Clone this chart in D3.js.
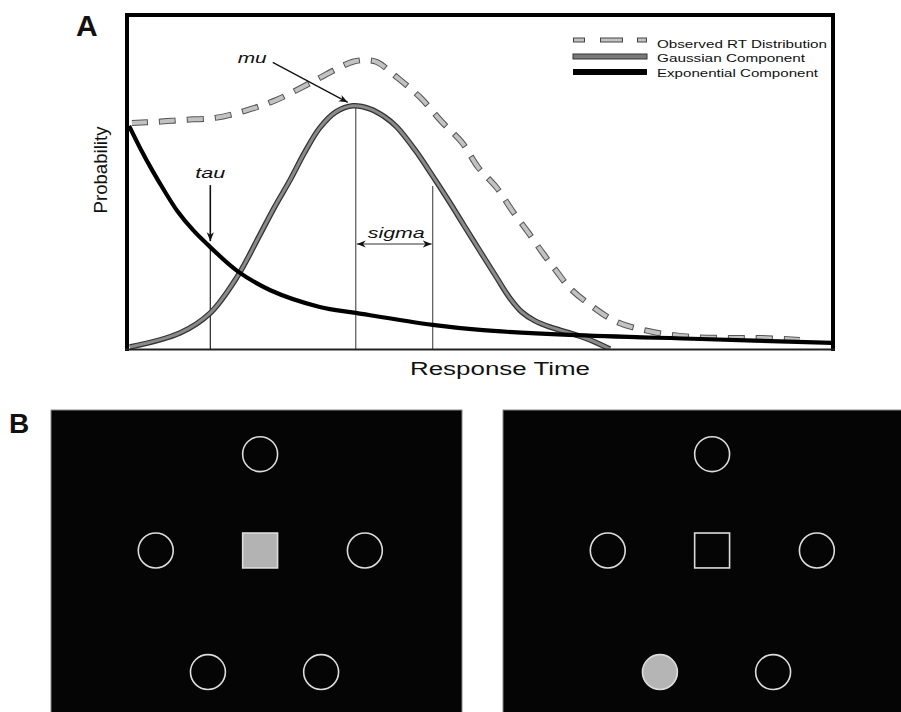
<!DOCTYPE html>
<html>
<head>
<meta charset="utf-8">
<script src="https://cdn.jsdelivr.net/npm/d3@7/dist/d3.min.js"></script>
<style>
  html, body { margin: 0; padding: 0; background: #fff; }
  svg { display: block; }
  text { font-family: "Liberation Sans", Arial, Helvetica, sans-serif; }
</style>
</head>
<body>
<div id="chart"></div>
<script>
// ---------- Panel A data (response time in arbitrary units 0-100, probability 0-100) ----------
const timeObserved = [0.7, 4.2, 7.9, 12.5, 16.7, 21.2, 25.9, 30.2, 32.0, 33.7, 35.4, 38.2, 41.5, 44.6, 47.5, 49.7, 52.4, 54.7, 56.8, 58.9, 60.9, 62.7, 65.6, 69.4, 74.5, 80.2, 85.4, 89.7, 95.3];
const probObserved = [67.7, 68.0, 68.6, 69.2, 71.3, 74.6, 79.6, 84.4, 86.0, 86.5, 85.9, 81.4, 75.4, 68.0, 61.7, 54.5, 48.2, 41.0, 35.0, 28.7, 23.1, 18.3, 13.2, 8.1, 5.1, 3.6, 3.3, 3.3, 2.7];

const timeGaussian = [0.4, 7.5, 11.8, 15.6, 18.8, 20.9, 23.1, 25.2, 27.3, 29.6, 32.0, 34.4, 36.5, 38.2, 40.8, 43.2, 45.5, 47.7, 50.0, 52.3, 54.2, 55.9, 57.8, 59.9, 62.7, 65.6, 68.4];
const probGaussian = [0.6, 4.8, 10.8, 21.6, 34.1, 42.5, 50.6, 59.0, 66.2, 71.0, 72.8, 71.9, 69.5, 66.5, 59.6, 52.1, 44.6, 37.1, 29.3, 21.6, 15.3, 11.1, 8.4, 6.6, 4.8, 2.7, 0.0];

const timeExponential = [0.3, 2.0, 3.6, 5.4, 7.1, 9.4, 11.8, 15.6, 20.3, 27.3, 32.4, 43.3, 50.0, 62.7, 81.2, 100];
const probExponential = [66.8, 59.6, 53.4, 47.0, 41.4, 35.5, 30.5, 23.4, 17.6, 12.6, 10.8, 7.2, 5.7, 4.2, 3.0, 1.8];

// ex-Gaussian parameters marked on the chart
const paramNames = ["tau", "mu", "sigma"];
const paramTimes = [11.8, 32.4, 43.3];

const legendLabels = ["Observed RT Distribution", "Gaussian Component", "Exponential Component"];

// ---------- Panel B data (stimulus display, screen pixels of a 1024x768 display) ----------
const placeholderNames = ["top", "left", "right", "lowerLeft", "lowerRight"];
const placeholderX = [521, 261, 782, 391, 673];
const placeholderY = [110, 350, 350, 653, 653];
const fixationX = 521, fixationY = 350;
const displays = ["cue", "target"];

// ---------- Drawing ----------
const W = 901, H = 712;
const svg = d3.select("#chart").append("svg").attr("width", W).attr("height", H);
svg.append("rect").attr("width", W).attr("height", H).attr("fill", "#fff");

const defs = svg.append("defs");
function marker(id, orient) {
  defs.append("marker").attr("id", id)
    .attr("viewBox", "0 0 10 10").attr("refX", 10).attr("refY", 5)
    .attr("markerWidth", 9).attr("markerHeight", 9).attr("markerUnits", "userSpaceOnUse")
    .attr("orient", orient)
    .append("path").attr("d", "M0,1 L10,5 L0,9 L3,5 Z").attr("fill", "#111");
}
marker("arr", "auto");
marker("arrStart", "auto-start-reverse");

const x = d3.scaleLinear().domain([0, 100]).range([127, 833]);
const y = d3.scaleLinear().domain([0, 100]).range([349, 15]);

defs.append("clipPath").attr("id", "plotClip")
  .append("rect").attr("x", 129).attr("y", 17).attr("width", 703).attr("height", 332);

const gA = svg.append("g");

const lookup = (ts, ps) => t => {
  for (let i = 1; i < ts.length; i++) {
    if (t <= ts[i]) {
      const f = (t - ts[i-1]) / (ts[i] - ts[i-1]);
      return ps[i-1] + f * (ps[i] - ps[i-1]);
    }
  }
  return 0;
};
const gaussAt = lookup(timeGaussian, probGaussian);
const expAt = lookup(timeExponential, probExponential);

const lineTops = [expAt(paramTimes[0]), gaussAt(paramTimes[1]), gaussAt(paramTimes[2]) - 3];
gA.selectAll("line.ref").data(paramTimes).join("line")
  .attr("class", "ref")
  .attr("x1", d => x(d)).attr("x2", d => x(d))
  .attr("y1", (d, i) => y(lineTops[i])).attr("y2", y(0))
  .attr("stroke", (d, i) => i === 0 ? "#222" : "#555").attr("stroke-width", 1.2);

const curves = gA.append("g").attr("clip-path", "url(#plotClip)");
const line = d3.line().x(d => x(d[0])).y(d => y(d[1])).curve(d3.curveCatmullRom.alpha(0.5));

const obs = d3.zip(timeObserved, probObserved);
const gau = d3.zip(timeGaussian, probGaussian);
const ex = d3.zip(timeExponential, probExponential);

// Gaussian component: grey band with dark edges
curves.append("path").attr("d", line(gau)).attr("fill", "none").attr("stroke", "#333").attr("stroke-width", 5.5);
curves.append("path").attr("d", line(gau)).attr("fill", "none").attr("stroke", "#8a8a8a").attr("stroke-width", 3);

// Observed RT distribution: outlined light grey dashes
curves.append("path").attr("d", line(obs)).attr("fill", "none").attr("stroke", "#555")
  .attr("stroke-width", 6).attr("stroke-dasharray", "17,11").attr("stroke-dashoffset", 1);
curves.append("path").attr("d", line(obs)).attr("fill", "none").attr("stroke", "#c2c2c2")
  .attr("stroke-width", 4).attr("stroke-dasharray", "15,13");

// Exponential component
curves.append("path").attr("d", line(ex)).attr("fill", "none").attr("stroke", "#000").attr("stroke-width", 4.2);

// Frame
gA.append("line").attr("x1", 125).attr("x2", 835).attr("y1", 15).attr("y2", 15).attr("stroke", "#000").attr("stroke-width", 4);
gA.append("line").attr("x1", 127).attr("x2", 127).attr("y1", 13).attr("y2", 351).attr("stroke", "#000").attr("stroke-width", 4);
gA.append("line").attr("x1", 833).attr("x2", 833).attr("y1", 13).attr("y2", 351).attr("stroke", "#000").attr("stroke-width", 4);
gA.append("line").attr("x1", 125).attr("x2", 835).attr("y1", 349.5).attr("y2", 349.5).attr("stroke", "#222").attr("stroke-width", 2);

// Annotations
const italic = (sel) => sel.attr("font-style", "italic").attr("font-size", 14).attr("fill", "#111");
// mu
const muX = x(paramTimes[1]), muY = y(gaussAt(paramTimes[1]));
gA.append("text").text("mu").call(italic).attr("x", muX - 118).attr("y", muY - 43)
  .attr("textLength", 29).attr("lengthAdjust", "spacingAndGlyphs");
gA.append("line").attr("x1", muX - 83).attr("y1", muY - 44).attr("x2", muX - 8).attr("y2", muY - 4)
  .attr("stroke", "#111").attr("stroke-width", 1.3).attr("marker-end", "url(#arr)");
// tau
const tauX = x(paramTimes[0]), tauY = y(expAt(paramTimes[0]));
gA.append("text").text("tau").call(italic).attr("x", tauX).attr("y", tauY - 69).attr("text-anchor", "middle")
  .attr("textLength", 30).attr("lengthAdjust", "spacingAndGlyphs");
gA.append("line").attr("x1", tauX).attr("y1", tauY - 62).attr("x2", tauX).attr("y2", tauY - 6)
  .attr("stroke", "#111").attr("stroke-width", 1.6).attr("marker-end", "url(#arr)");
// sigma
const sgA = x(paramTimes[1]), sgB = x(paramTimes[2]);
gA.append("text").text("sigma").call(italic).attr("x", (sgA + sgB) / 2 + 2).attr("y", 238).attr("text-anchor", "middle")
  .attr("textLength", 57).attr("lengthAdjust", "spacingAndGlyphs");
gA.append("line").attr("x1", sgA + 1).attr("x2", sgB - 1).attr("y1", 244).attr("y2", 244)
  .attr("stroke", "#333").attr("stroke-width", 1.2)
  .attr("marker-start", "url(#arrStart)").attr("marker-end", "url(#arr)");

// Axis titles
gA.append("text").text("Response Time").attr("x", 500).attr("y", 375).attr("text-anchor", "middle")
  .attr("font-size", 18).attr("fill", "#111").attr("textLength", 180).attr("lengthAdjust", "spacingAndGlyphs");
gA.append("text").text("Probability").attr("transform", "translate(107,170) rotate(-90)").attr("text-anchor", "middle")
  .attr("font-size", 19).attr("fill", "#111").attr("textLength", 87).attr("lengthAdjust", "spacingAndGlyphs");

// Legend
const legendY = [40, 56.5, 72];
const textY = [47.5, 62, 77];
const textLen = [170, 148, 161];
const lg = gA.append("g");
lg.append("line").attr("x1", 573).attr("x2", 647).attr("y1", legendY[0]).attr("y2", legendY[0])
  .attr("stroke", "#444").attr("stroke-width", 5).attr("stroke-dasharray", "12,15,23,14,10");
lg.append("line").attr("x1", 574).attr("x2", 646).attr("y1", legendY[0]).attr("y2", legendY[0])
  .attr("stroke", "#c2c2c2").attr("stroke-width", 3).attr("stroke-dasharray", "10,17,21,16,8");
lg.append("rect").attr("x", 573).attr("y", legendY[1] - 2.5).attr("width", 74).attr("height", 5)
  .attr("fill", "#7a7a7a").attr("stroke", "#333").attr("stroke-width", 1);
lg.append("rect").attr("x", 573).attr("y", legendY[2] - 3).attr("width", 74).attr("height", 6).attr("fill", "#000");
lg.selectAll("text").data(legendLabels).join("text")
  .text(d => d).attr("x", 657).attr("y", (d, i) => textY[i])
  .attr("font-size", 11).attr("fill", "#111")
  .attr("textLength", (d, i) => textLen[i]).attr("lengthAdjust", "spacingAndGlyphs");

// Panel letters
svg.append("text").text("A").attr("x", 76).attr("y", 36).attr("font-size", 30).attr("font-weight", "bold").attr("fill", "#111");
svg.append("text").text("B").attr("x", 9).attr("y", 433).attr("font-size", 28).attr("font-weight", "bold").attr("fill", "#111");

// ---------- Panel B ----------
const panelLeft = [51, 503];
const scr = 411 / 1024;
displays.forEach((disp, k) => {
  const px = d3.scaleLinear().domain([0, 1024]).range([panelLeft[k], panelLeft[k] + 1024 * scr]);
  const py = d3.scaleLinear().domain([0, 768]).range([410, 410 + 768 * scr]);
  const g = svg.append("g");
  g.append("rect").attr("x", px(0)).attr("y", py(0)).attr("width", px(1024) - px(0)).attr("height", py(768) - py(0))
    .attr("fill", "#050505").attr("stroke", "#888").attr("stroke-width", 1);
  const r = 43.5 * scr;
  g.selectAll("circle").data(placeholderNames).join("circle")
    .attr("cx", (d, i) => px(placeholderX[i])).attr("cy", (d, i) => py(placeholderY[i])).attr("r", r)
    .attr("fill", (d) => (disp === "target" && d === "lowerLeft") ? "#b5b5b5" : "none")
    .attr("stroke", "#dcdcdc").attr("stroke-width", 1.6);
  const s = 87 * scr;
  g.append("rect").attr("x", px(fixationX) - s / 2).attr("y", py(fixationY) - s / 2).attr("width", s).attr("height", s)
    .attr("fill", disp === "cue" ? "#b3b3b3" : "none").attr("stroke", "#dcdcdc").attr("stroke-width", 1.6);
});
</script>
</body>
</html>
